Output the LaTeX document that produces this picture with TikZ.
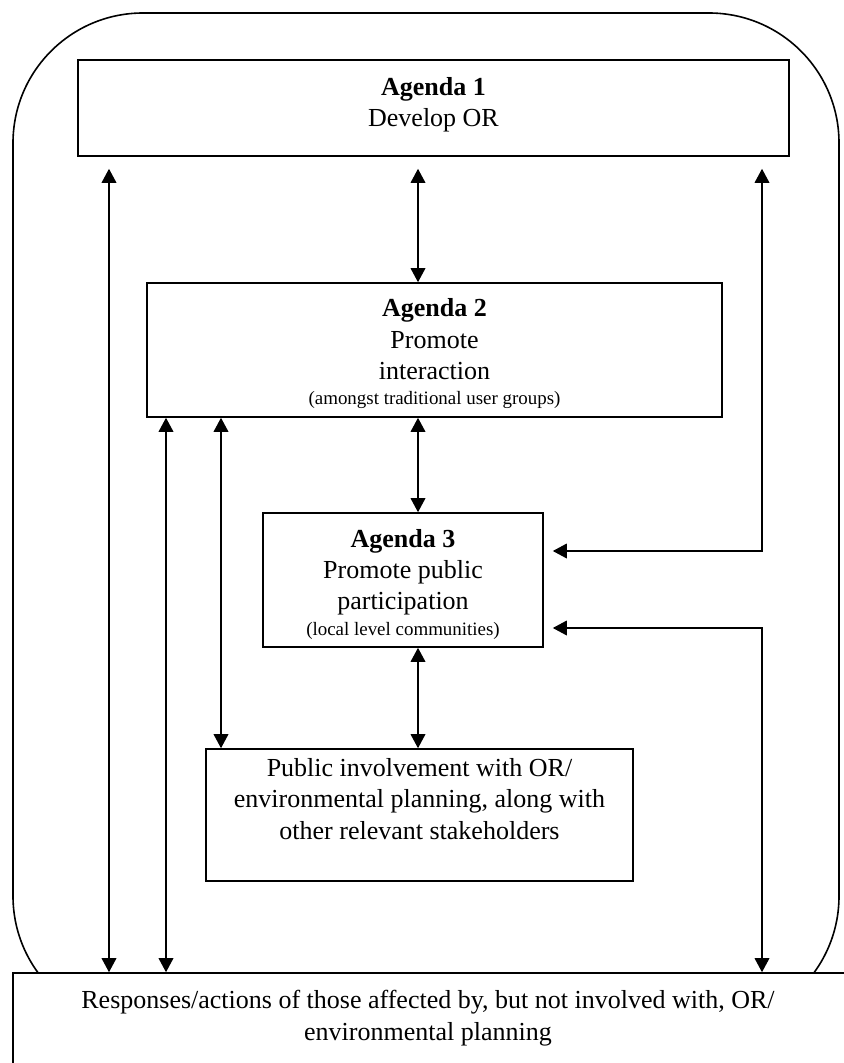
\documentclass[tikz,border=0pt]{standalone}
\usepackage{fontspec}
\setmainfont{Liberation Serif}
\usetikzlibrary{arrows.meta,calc}
\newcommand\smalltxt{\fontsize{14.2}{17}\selectfont}
\begin{document}
\begin{tikzpicture}[x=0.75pt,y=-0.75pt,
  box/.style={draw, line width=1.2pt, inner sep=0pt, fill=white},
  txt/.style={align=center, font=\fontsize{19.5}{23.5}\selectfont, inner sep=0pt},
  tip/.style={Triangle[length=10.5pt,width=11pt]},
  dbl/.style={line width=1pt, {Triangle[length=10.5pt,width=11pt]}-{Triangle[length=10.5pt,width=11pt]}}]
\useasboundingbox (0,0) rectangle (843,1063);
% outer rounded frame
\node[draw, line width=1.2pt, rounded corners=97.5pt, inner sep=0pt,
      minimum width=619.5pt, minimum height=759.75pt] (outer) at (426,519.5) {};
% boxes
\node[box, minimum width=533.25pt, minimum height=72pt] (a1) at (433.5,108) {};
\node[box, minimum width=431.25pt, minimum height=100.5pt] (a2) at (434.5,350) {};
\node[box, minimum width=210pt, minimum height=100.5pt] (a3) at (403,580) {};
\node[box, minimum width=320.25pt, minimum height=99pt] (pub) at (419.5,815) {};
\node[box, minimum width=624pt, minimum height=95.25pt] (bot) at (429,1036.5) {};
% texts
\node[txt] (a1t) at (433.5,105) {\textbf{Agenda 1}\\Develop OR};
\node[txt] (a2t) at (434.5,354) {\textbf{Agenda 2}\\Promote\\interaction\\[-4.5pt]{\smalltxt (amongst traditional user groups)}};
\node[txt] (a3t) at (403,584) {\textbf{Agenda 3}\\Promote public\\participation\\[-4.5pt]{\smalltxt (local level communities)}};
\node[txt] (pubt) at (419.5,799) {Public involvement with OR/\\environmental planning, along with\\other relevant stakeholders};
\node[txt] (bott) at (428,1018) {Responses/actions of those affected by, but not involved with, OR/\\environmental planning};
% connector columns / rows
\coordinate (xA) at (109,0);
\coordinate (xB) at (166,0);
\coordinate (xC) at (221,0);
\coordinate (xD) at (418,0);
\coordinate (xE) at (762,0);
\coordinate (yU) at (0,551);
\coordinate (yL) at (0,628);
% connectors
\draw[dbl, shorten <=9pt] (a1.south -| xA) -- (bot.north -| xA);
\draw[dbl, shorten <=9pt] (a1.south -| xD) -- (a2.north -| xD);
\draw[dbl, shorten <=9pt, shorten >=6.75pt] (a1.south -| xE) |- (a3.east |- yU);
\draw[dbl] (a2.south -| xB) -- (bot.north -| xB);
\draw[dbl] (a2.south -| xC) -- (pub.north -| xC);
\draw[dbl] (a2.south -| xD) -- (a3.north -| xD);
\draw[dbl] (a3.south -| xD) -- (pub.north -| xD);
\draw[dbl, shorten <=6.75pt] (a3.east |- yL) -| (bot.north -| xE);
\end{tikzpicture}
\end{document}
